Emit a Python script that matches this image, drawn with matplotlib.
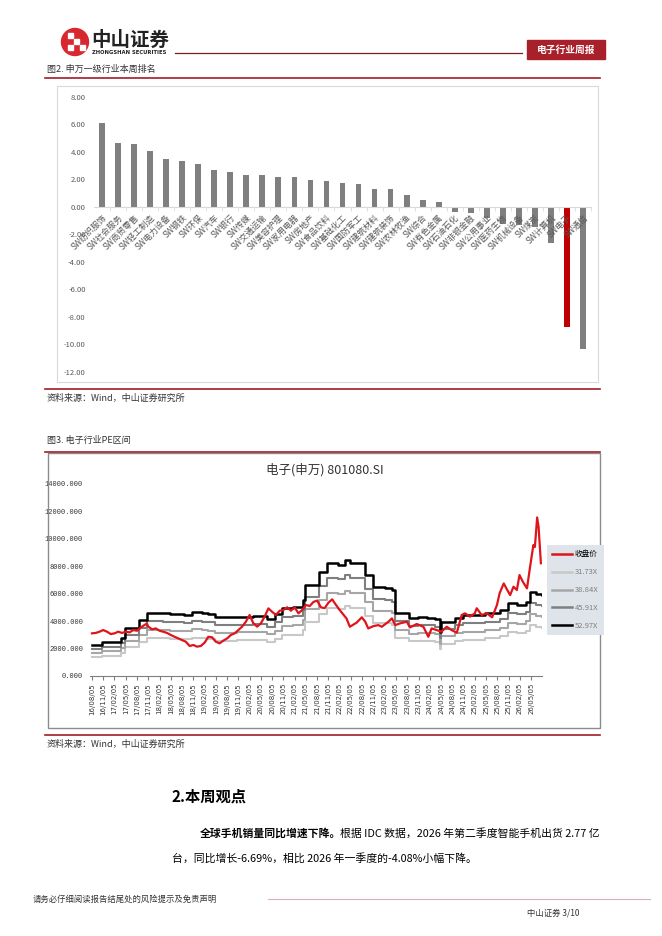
import matplotlib.pyplot as plt
import matplotlib.patches as mpatches
from matplotlib.lines import Line2D
import pandas as pd

plt.rcParams['font.family'] = ['Noto Sans CJK SC', 'DejaVu Sans']

W, H = 662, 936

# ---- 图2 申万一级行业本周涨跌幅 (%)
industries = ['SW纺织服饰', 'SW社会服务', 'SW商贸零售', 'SW轻工制造', 'SW电力设备', 'SW钢铁',
              'SW环保', 'SW汽车', 'SW银行', 'SW传媒', 'SW交通运输', 'SW美容护理', 'SW家用电器',
              'SW房地产', 'SW食品饮料', 'SW基础化工', 'SW国防军工', 'SW建筑材料', 'SW建筑装饰',
              'SW农林牧渔', 'SW综合', 'SW有色金属', 'SW石油石化', 'SW非银金融', 'SW公用事业',
              'SW医药生物', 'SW机械设备', 'SW煤炭', 'SW计算机', 'SW电子', 'SW通信']
week_chg = [6.10, 4.68, 4.58, 4.10, 3.49, 3.37, 3.15, 2.72, 2.57, 2.35, 2.30, 2.21, 2.18,
            1.96, 1.92, 1.77, 1.65, 1.31, 1.28, 0.87, 0.51, 0.36, -0.34, -0.41, -0.82,
            -1.26, -1.31, -1.43, -2.59, -8.70, -10.35]
highlight = 'SW电子'

# ---- 图3 电子(申万) PE band, x = months since 2016-08-05
band_m = [0, 2.8, 7.8, 8.7, 12.4, 14.7, 19, 20.7, 24.5, 26.6, 29.3, 31, 32.7, 36.5, 38.7,
          43, 46.5, 48.7, 50.6, 53.5, 56.3, 56.8, 60.6, 62.6, 65.5, 67.5, 68.8, 72.7, 74.8,
          78, 80, 80.7, 84.5, 86.8, 89.3, 91.3, 92.8, 93.1, 96.8, 98.8, 104.8, 108.8, 110.8,
          113.3, 115.5, 116.8, 118.3, 119.9]
pe_5297 = [2260, 2450, 2750, 3480, 4080, 4620, 4580, 4520, 4450, 4650, 4580, 4520, 4280, 4300,
           4330, 4380, 4150, 4520, 4950, 5050, 5560, 6630, 7550, 8230, 8130, 8480, 8250, 7360,
           6500, 6420, 6250, 4600, 4200, 4300, 4250, 4160, 3230, 3950, 4250, 4420, 4570, 4820,
           5300, 5200, 5420, 6150, 6000, 5900]
pe_4591 = [1959, 2123, 2383, 3016, 3536, 4004, 3969, 3917, 3857, 4030, 3969, 3917, 3709, 3727,
           3753, 3796, 3597, 3917, 4290, 4377, 4819, 5746, 6543, 7133, 7046, 7350, 7150, 6379,
           5634, 5564, 5417, 3987, 3640, 3727, 3683, 3605, 2799, 3423, 3683, 3831, 3961, 4177,
           4593, 4507, 4697, 5330, 5200, 5113]
pe_3884 = [1657, 1797, 2017, 2552, 2992, 3388, 3359, 3315, 3263, 3410, 3359, 3315, 3139, 3153,
           3175, 3212, 3043, 3315, 3630, 3703, 4077, 4862, 5536, 6035, 5962, 6218, 6050, 5397,
           4766, 4708, 4583, 3373, 3080, 3153, 3117, 3051, 2369, 2897, 3117, 3241, 3351, 3535,
           3887, 3813, 3975, 4510, 4400, 4327]
pe_3173 = [1354, 1468, 1647, 2085, 2444, 2767, 2743, 2707, 2666, 2785, 2743, 2707, 2564, 2576,
           2594, 2624, 2486, 2707, 2965, 3025, 3330, 3971, 4522, 4930, 4870, 5080, 4942, 4409,
           3894, 3846, 3744, 2755, 2516, 2576, 2546, 2492, 1935, 2366, 2546, 2648, 2737, 2887,
           3175, 3115, 3247, 3684, 3594, 3534]
close_m = [0, 1, 2, 3, 4, 5, 6, 7, 8, 9, 10, 11, 12, 13, 14.6, 15, 16, 17, 18, 19, 20, 21, 22,
           23, 24, 25, 26, 27, 28, 29, 30, 31, 32, 33, 34, 35, 36, 37, 38, 39, 40, 41, 42, 43,
           44, 45, 46, 47, 48, 49, 50, 51, 52, 53, 54, 55, 56, 57, 58, 59, 60, 61, 62, 63, 64,
           64.7, 66, 67.8, 68.7, 70.5, 71.9, 72.8, 73.6, 75, 76.3, 77.2, 79, 79.9, 80.8, 82,
           83.9, 84.7, 86.5, 88.3, 89.6, 90.5, 91.8, 93.1, 94.5, 95.8, 97.2, 98.5, 99.4, 100.7,
           102, 102.5, 103.8, 105.2, 106.6, 107.9, 108.6, 109.7, 110.4, 111.4, 112.3, 113.2,
           113.9, 114.8, 115.9, 116.7, 117.6, 118, 118.6, 119, 119.2, 119.6]
close_v = [3110, 3140, 3230, 3350, 3230, 3060, 3110, 3230, 3140, 3230, 3180, 3350, 3300, 3550,
           3820, 3600, 3400, 3470, 3300, 3230, 3140, 2990, 2860, 2740, 2620, 2500, 2190, 2260,
           2140, 2190, 2430, 2860, 2820, 2500, 2380, 2580, 2740, 2990, 3110, 3350, 3600, 3960,
           4450, 3840, 3600, 3840, 4330, 4930, 4680, 4450, 4760, 4810, 5010, 4760, 5010, 4570,
           4810, 5180, 5100, 5400, 5500, 5000, 4950, 5350, 5590, 5300, 4810, 4200, 3590, 3890,
           4280, 3960, 3470, 3640, 3710, 3590, 3960, 4200, 3710, 3830, 3960, 3540, 3790, 3590,
           2860, 3470, 3350, 3230, 3590, 3350, 3160, 4450, 4570, 4330, 4570, 4940, 4450, 4570,
           4280, 5180, 6030, 6750, 6390, 5900, 6510, 6270, 7360, 6870, 6390, 7930, 9550, 9410,
           11560, 10830, 9920, 8220]
legend_names = ['收盘价', '31.73X', '38.84X', '45.91X', '52.97X']


def fx(px):
    return px / W


def fy(py):
    return 1 - py / H


def px_axes(l, t, r, b):
    return fig.add_axes([l / W, 1 - b / H, (r - l) / W, (b - t) / H])


def hline(x0, x1, y, color, lw):
    fig.add_artist(Line2D([fx(x0), fx(x1)], [fy(y), fy(y)], color=color, lw=lw))


def frame(l, t, r, b, color, lw):
    fig.add_artist(mpatches.Rectangle((fx(l), fy(b)), (r - l) / W, (b - t) / H, fill=False,
                                      edgecolor=color, lw=lw, transform=fig.transFigure))


fig = plt.figure(figsize=(W / 100, H / 100), dpi=100)

# ---- page header
fig.add_artist(mpatches.Ellipse((fx(75), fy(42)), 27 / W, 27 / H, color='#d7282f',
                                transform=fig.transFigure))
for (x0, y0) in [(68, 33), (74, 39), (80, 45), (68, 45)]:
    fig.add_artist(mpatches.Rectangle((fx(x0), fy(y0 + 5)), 5 / W, 5 / H, color='white',
                                      transform=fig.transFigure))
fig.text(fx(91), fy(40), '中山证券', fontsize=14, weight='bold', color='#222222', va='center')
fig.text(fx(92), fy(53), 'ZHONGSHAN SECURITIES', fontsize=3.8, weight='bold',
         color='#222222', va='center', family='DejaVu Sans')
hline(175, 522, 53, '#7b1c1c', 0.9)
fig.add_artist(mpatches.Rectangle((fx(527), fy(59)), 78 / W, 19 / H, color='#a8202a',
                                  transform=fig.transFigure))
fig.text(fx(566), fy(49.5), '电子行业周报', fontsize=7, weight='bold', color='white',
         ha='center', va='center')

# ---- 图2
fig.text(fx(47), fy(69), '图2. 申万一级行业本周排名', fontsize=6.5, color='#333333', va='center')
hline(45, 600, 78, '#a31d24', 1.2)
frame(57, 86, 598, 382, '#d9d9d9', 0.8)

ax1 = px_axes(94, 97, 591, 372)
colors = ['#c00000' if n == highlight else '#7f7f7f' for n in industries]
ax1.bar(range(len(industries)), week_chg, width=0.36, color=colors)
ax1.set_xlim(-0.5, len(industries) - 0.5)
ax1.set_ylim(-12, 8)
ax1.set_yticks(range(-12, 9, 2))
ax1.set_yticklabels([f'{v:.2f}' for v in range(-12, 9, 2)], fontsize=5.5, color='#595959')
ax1.tick_params(axis='y', length=0, pad=6)
ax1.spines['bottom'].set_position(('data', 0))
ax1.spines['bottom'].set_color('#d9d9d9')
for s in ['top', 'right', 'left']:
    ax1.spines[s].set_visible(False)
ax1.set_xticks(range(len(industries)))
ax1.set_xticklabels(industries, rotation=45, ha='right', va='top', rotation_mode='anchor',
                    fontsize=6, color='#595959')
ax1.set_xticks([i + 0.5 for i in range(len(industries))], minor=True)
ax1.tick_params(axis='x', which='major', length=0, pad=4)
ax1.tick_params(axis='x', which='minor', length=3, color='#d9d9d9')
ax1.patch.set_alpha(0)

hline(45, 600, 389, '#a31d24', 1.2)
fig.text(fx(47), fy(398), '资料来源：Wind，中山证券研究所', fontsize=6.5, color='#333333', va='center')

# ---- 图3
fig.text(fx(47), fy(440), '图3. 电子行业PE区间', fontsize=6.5, color='#333333', va='center')
hline(45, 600, 452, '#a31d24', 1.2)
frame(48, 453, 600, 728, '#8c8c8c', 1)
fig.text(fx(325), fy(470), '电子(申万) 801080.SI', fontsize=9, color='#333333',
         ha='center', va='center')

ax2 = px_axes(90.1, 484, 542.4, 676)
ax2.step(band_m, pe_3173, where='post', color='#c8c8c8', lw=1.5)
ax2.step(band_m, pe_3884, where='post', color='#a6a6a6', lw=1.5)
ax2.step(band_m, pe_4591, where='post', color='#7f7f7f', lw=1.5)
ax2.step(band_m, pe_5297, where='post', color='black', lw=1.8)
ax2.plot(close_m, close_v, color='#e0141b', lw=1.6)
ax2.set_xlim(-0.5, 120)
ax2.set_ylim(0, 14000)
ax2.set_yticks(range(0, 14001, 2000))
ax2.set_yticklabels([f'{v}.000' for v in range(0, 14001, 2000)], fontsize=5,
                    color='#333333', family='Liberation Mono')
ax2.tick_params(axis='y', length=0, pad=5)
xt = list(range(0, 118, 3))
ax2.set_xticks(xt)
ax2.set_xticklabels([(pd.Timestamp('2016-08-05') + pd.DateOffset(months=m)).strftime('%y/%m/%d')
                     for m in xt], rotation=90, fontsize=5, color='#333333', family='DejaVu Sans')
ax2.tick_params(axis='x', length=3, color='#7f7f7f', pad=2)
for s in ['top', 'right', 'left']:
    ax2.spines[s].set_visible(False)
ax2.spines['bottom'].set_color('#7f7f7f')
ax2.patch.set_alpha(0)

handles = [Line2D([], [], color='#e0141b', lw=1.8), Line2D([], [], color='#c8c8c8', lw=1.8),
           Line2D([], [], color='#a6a6a6', lw=1.8), Line2D([], [], color='#7f7f7f', lw=1.8),
           Line2D([], [], color='black', lw=1.8)]
leg = fig.legend(handles, legend_names, loc='upper left', bbox_to_anchor=(fx(547), fy(545)),
                 frameon=True, facecolor='#dfe4ea', edgecolor='none', fancybox=False,
                 fontsize=5.5, handlelength=2.6, handletextpad=0.3, labelspacing=1.3,
                 borderpad=0.7, borderaxespad=0, framealpha=1)
for t in leg.get_texts()[1:]:
    t.set_color('#7f7f7f')

hline(45, 600, 735, '#a31d24', 1.2)
fig.text(fx(47), fy(744), '资料来源：Wind，中山证券研究所', fontsize=6.5, color='#333333', va='center')

# ---- text body
fig.text(fx(172), fy(797), '2.本周观点', fontsize=11, weight='bold', color='black', va='center')
fig.text(fx(200), fy(833), '全球手机销量同比增速下降。', fontsize=7.8, weight='bold',
         color='black', va='center')
fig.text(fx(340), fy(833), '根据 IDC 数据，2026 年第二季度智能手机出货 2.77 亿', fontsize=7.8,
         color='black', va='center')
fig.text(fx(172), fy(858), '台，同比增长-6.69%，相比 2026 年一季度的-4.08%小幅下降。', fontsize=7.8,
         color='black', va='center')

# ---- footer
fig.text(fx(33), fy(899), '请务必仔细阅读报告结尾处的风险提示及免责声明', fontsize=6,
         color='#333333', va='center')
hline(268, 650, 899, '#d9b0b5', 0.8)
fig.text(fx(527), fy(913), '中山证券 3/10', fontsize=6, color='#333333', va='center')

fig.savefig('out.png', dpi=100)
